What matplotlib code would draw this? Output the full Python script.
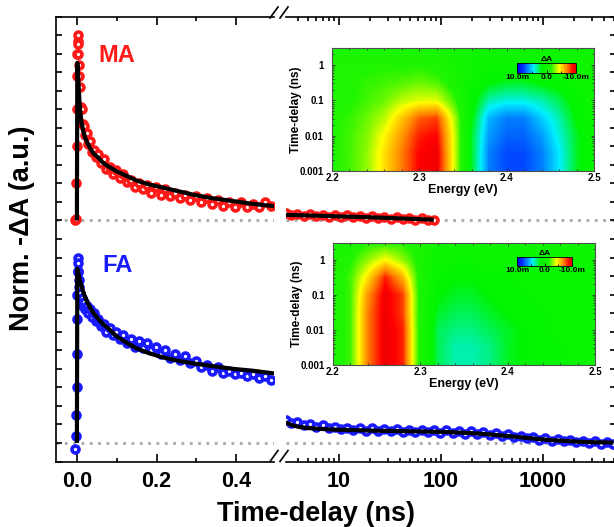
import numpy as np
import matplotlib
matplotlib.use("Agg")
import matplotlib.pyplot as plt
from matplotlib.colors import LinearSegmentedColormap, Normalize
from matplotlib.lines import Line2D
from matplotlib.ticker import MultipleLocator, FixedLocator, NullFormatter, LogLocator

plt.rcParams['font.family'] = ['Liberation Sans', 'DejaVu Sans']
plt.rcParams['font.weight'] = 'bold'

# =============================================================================
# DATA
# =============================================================================

MA_OFFSET = 1.2

# short time window (linear axis, ns)
t_short = [-0.004, -0.003, -0.002, -0.001, 0.0, 0.0005, 0.001, 0.0015, 0.002, 0.003,
           0.004, 0.005, 0.006, 0.008, 0.010, 0.012, 0.015, 0.018, 0.021, 0.025,
           0.029, 0.033, 0.038, 0.043, 0.048, 0.054, 0.060, 0.067, 0.074, 0.082,
           0.090, 0.098, 0.107, 0.116, 0.125, 0.135, 0.145, 0.155, 0.165, 0.176,
           0.187, 0.198, 0.210, 0.222, 0.234, 0.246, 0.259, 0.272, 0.285, 0.298,
           0.312, 0.326, 0.340, 0.354, 0.368, 0.383, 0.398, 0.413, 0.428, 0.443,
           0.458, 0.473, 0.488]
ma_short = [0.00, 0.01, 0.20, 0.40, 0.60, 0.78, 0.90, 0.97, 1.00, 0.95,
            0.90, 0.84, 0.78, 0.72, 0.61, 0.60, 0.52, 0.51, 0.46, 0.47,
            0.41, 0.43, 0.37, 0.38, 0.34, 0.36, 0.31, 0.33, 0.28, 0.29,
            0.25, 0.27, 0.23, 0.25, 0.21, 0.22, 0.18, 0.20, 0.17, 0.19,
            0.15, 0.18, 0.14, 0.17, 0.13, 0.15, 0.12, 0.14, 0.11, 0.13,
            0.10, 0.12, 0.09, 0.11, 0.08, 0.10, 0.07, 0.10, 0.07, 0.09,
            0.07, 0.10, 0.08]
fa_short = [-0.03, 0.04, 0.15, 0.30, 0.48, 0.67, 0.80, 0.92, 1.00, 0.97,
            0.93, 0.88, 0.84, 0.81, 0.77, 0.78, 0.74, 0.76, 0.72, 0.74,
            0.70, 0.72, 0.68, 0.70, 0.66, 0.67, 0.63, 0.64, 0.60, 0.62,
            0.58, 0.60, 0.56, 0.58, 0.54, 0.56, 0.52, 0.55, 0.51, 0.54,
            0.50, 0.52, 0.48, 0.50, 0.46, 0.48, 0.45, 0.47, 0.43, 0.44,
            0.41, 0.42, 0.39, 0.41, 0.38, 0.39, 0.37, 0.38, 0.36, 0.37,
            0.35, 0.36, 0.34]

fit_t_short = [0.0, 0.001, 0.002, 0.004, 0.006, 0.008, 0.011, 0.015, 0.020, 0.026,
               0.033, 0.042, 0.053, 0.066, 0.080, 0.100, 0.125, 0.150, 0.180, 0.210,
               0.250, 0.290, 0.340, 0.390, 0.440, 0.495]
ma_fit_short = [0.0, 0.85, 0.82, 0.74, 0.66, 0.60, 0.54, 0.49, 0.45, 0.42,
                0.39, 0.36, 0.34, 0.31, 0.29, 0.265, 0.24, 0.215, 0.195, 0.18,
                0.16, 0.14, 0.12, 0.105, 0.09, 0.077]
fa_fit_short = [0.0, 0.94, 0.93, 0.91, 0.89, 0.87, 0.85, 0.82, 0.79, 0.76,
                0.73, 0.70, 0.67, 0.64, 0.615, 0.575, 0.54, 0.51, 0.485, 0.465,
                0.445, 0.43, 0.415, 0.40, 0.39, 0.375]

# long time window (log axis, ns)
t_long = [3.0, 3.4, 3.9, 4.5, 5.2, 6.0, 6.9, 7.9, 9.1, 10.5,
          12.0, 13.8, 15.9, 18.3, 21.0, 24.2, 27.8, 32.0, 36.8, 42.3,
          48.7, 56.0, 64.4, 74.0, 85.0, 98.0, 113, 130, 149, 171,
          197, 227, 261, 300, 345, 397, 456, 525, 603, 694,
          798, 918, 1055, 1214, 1396, 1605, 1846, 2123, 2441, 2807,
          3228, 3713, 4270, 4910]
ma_long = [0.040, 0.028, 0.036, 0.025, 0.033, 0.022, 0.031, 0.020, 0.030, 0.018,
           0.027, 0.016, 0.025, 0.014, 0.022, 0.012, 0.020, 0.010, 0.017, 0.007,
           0.014, 0.004, 0.011, 0.002, 0.005]
fa_long = [0.125, 0.110, 0.115, 0.095, 0.100, 0.085, 0.095, 0.080, 0.088, 0.075,
           0.083, 0.070, 0.080, 0.065, 0.078, 0.063, 0.075, 0.062, 0.073, 0.060,
           0.072, 0.058, 0.070, 0.057, 0.070, 0.055, 0.068, 0.053, 0.065, 0.050,
           0.062, 0.046, 0.058, 0.042, 0.053, 0.036, 0.047, 0.030, 0.040, 0.025,
           0.033, 0.018, 0.027, 0.012, 0.022, 0.008, 0.016, 0.003, 0.012, 0.000,
           0.008, -0.005, 0.005, -0.008]

ma_fit_t_long = [3, 5, 10, 20, 40, 85]
ma_fit_long = [0.030, 0.027, 0.022, 0.017, 0.011, 0.004]
fa_fit_t_long = [3, 3.5, 4, 5, 7, 10, 20, 50, 100, 200, 300, 500, 800, 1200, 2000, 3000, 4900]
fa_fit_long = [0.110, 0.095, 0.087, 0.080, 0.075, 0.071, 0.067, 0.063, 0.060, 0.053,
               0.046, 0.035, 0.024, 0.015, 0.008, 0.004, 0.002]

# transient absorption maps: dA (mOD) on energy x log10(time) grid
map_energy = [2.20, 2.22, 2.24, 2.26, 2.28, 2.30, 2.32, 2.34,
              2.36, 2.38, 2.40, 2.42, 2.44, 2.46, 2.48, 2.50]
map_log_t = [-3.0, -2.5, -2.0, -1.5, -1.0, -0.5, 0.0, 0.5]
ma_map = [
    [-1.5, -2.0, -3.0, -5.0, -7.0, -9.0, -9.5, -4.0, 2.0, 6.5, 7.5, 7.5, 6.5, 4.5, 2.0, 0.5],
    [-1.5, -2.0, -3.0, -5.0, -7.0, -9.0, -9.5, -4.0, 2.0, 6.5, 7.5, 7.5, 6.5, 4.5, 2.0, 0.5],
    [-1.5, -2.0, -2.8, -4.5, -6.5, -8.5, -9.0, -4.0, 2.0, 6.0, 7.0, 7.0, 6.0, 4.0, 2.0, 0.5],
    [-1.5, -1.8, -2.5, -3.5, -5.5, -7.5, -8.0, -3.5, 1.5, 5.5, 6.5, 6.5, 5.0, 3.5, 1.5, 0.5],
    [-1.5, -1.5, -2.0, -2.5, -3.5, -4.0, -4.0, -2.0, 1.0, 3.5, 4.0, 4.0, 3.5, 2.5, 1.0, 0.5],
    [-1.5, -1.5, -1.8, -2.0, -2.2, -2.5, -2.2, -1.0, 0.5, 1.5, 2.0, 2.0, 1.5, 1.0, 0.5, 0.0],
    [-1.5, -1.5, -1.5, -1.5, -1.5, -1.5, -1.2, -0.5, 0.0, 0.5, 0.5, 0.5, 0.5, 0.5, 0.0, 0.0],
    [-1.0, -1.0, -1.0, -1.0, -1.0, -1.0, -0.8, -0.5, 0.0, 0.0, 0.0, 0.0, 0.0, 0.0, 0.0, 0.0],
]
fa_map = [
    [-1.0, -2.0, -7.0, -9.5, -8.5, -1.0, 2.5, 3.5, 3.5, 3.0, 2.0, 1.5, 1.0, 1.0, 0.5, 0.5],
    [-1.0, -2.0, -7.0, -9.5, -8.5, -1.0, 2.5, 3.5, 3.5, 3.0, 2.0, 1.5, 1.0, 1.0, 0.5, 0.5],
    [-1.0, -2.0, -7.0, -9.5, -8.5, -1.0, 2.5, 3.0, 3.0, 2.5, 2.0, 1.5, 1.0, 0.5, 0.5, 0.5],
    [-1.0, -2.0, -7.0, -9.5, -8.0, -1.0, 2.0, 2.5, 2.5, 2.0, 1.5, 1.0, 1.0, 0.5, 0.5, 0.5],
    [-1.0, -2.0, -6.5, -9.5, -8.0, -1.0, 1.5, 2.0, 2.0, 1.5, 1.0, 1.0, 0.5, 0.5, 0.5, 0.5],
    [-1.0, -2.0, -5.0, -8.5, -6.0, -1.0, 1.0, 1.5, 1.5, 1.0, 1.0, 0.5, 0.5, 0.5, 0.5, 0.5],
    [-1.0, -1.5, -3.0, -4.5, -3.0, -1.0, 0.5, 0.5, 0.5, 0.5, 0.5, 0.5, 0.5, 0.5, 0.5, 0.5],
    [-1.0, -1.0, -1.5, -1.5, -1.5, -1.0, 0.0, 0.0, 0.0, 0.0, 0.0, 0.0, 0.0, 0.0, 0.0, 0.0],
]

# Origin-like rainbow; blue side = +10 mOD, red side = -10 mOD
rainbow = LinearSegmentedColormap.from_list('origin_rainbow', [
    (0.00, '#0000e6'), (0.10, '#0030ff'), (0.28, '#00f0ff'), (0.42, '#00f500'),
    (0.58, '#20f500'), (0.72, '#ffff00'), (0.85, '#ff8000'), (0.95, '#ff0000'),
    (1.00, '#e60000')]).reversed()

RED = '#ff1a1a'
BLUE = '#1a1aff'

# =============================================================================
# FIGURE
# =============================================================================

W, H = 614, 527
fig = plt.figure(figsize=(W / 100, H / 100), dpi=100)


def px_rect(x0, y0, x1, y1):
    """Pixel box (top-left origin) -> figure fraction rect."""
    return [x0 / W, 1 - y1 / H, (x1 - x0) / W, (y1 - y0) / H]


ax1 = fig.add_axes(px_rect(56, 16.5, 274, 461.5))
ax2 = fig.add_axes(px_rect(286, 16.5, 616, 461.5))

mk = dict(marker='o', ms=5.0, mew=2.6, mfc='white', ls='none', zorder=3)
ln = dict(color='black', lw=3.0, zorder=4, solid_capstyle='butt')
zero = dict(color='#a8a8a8', lw=2.0, ls=(0, (1, 2)), zorder=1)

for ax in (ax1, ax2):
    ax.axhline(0, **zero)
    ax.axhline(MA_OFFSET, **zero)

ma_s = np.array(ma_short) + MA_OFFSET
ax1.plot(t_short, ma_s, mec=RED, **mk)
ax1.plot(fit_t_short, np.array(ma_fit_short) + MA_OFFSET, **ln)
ax1.plot(t_short, fa_short, mec=BLUE, **mk)
ax1.plot(fit_t_short, fa_fit_short, **ln)

ax2.plot(t_long[:len(ma_long)], np.array(ma_long) + MA_OFFSET, mec=RED, **mk)
ax2.plot(ma_fit_t_long, np.array(ma_fit_long) + MA_OFFSET, **ln)
ax2.plot(t_long, fa_long, mec=BLUE, **mk)
ax2.plot(fa_fit_t_long, fa_fit_long, **ln)

for ax in (ax1, ax2):
    ax.set_ylim(-0.1, 2.3)
    ax.yaxis.set_major_locator(MultipleLocator(0.1))
    ax.yaxis.set_major_formatter(NullFormatter())
    ax.tick_params(which='both', direction='in', top=True, width=1.2, labelsize=15.5, pad=7)
    ax.tick_params(which='major', length=5.8)
    ax.tick_params(which='minor', length=3.2)
    ax.tick_params(axis='y', length=4.2)
    for s in ax.spines.values():
        s.set_linewidth(1.2)

ax1.set_xlim(-0.0525, 0.495)
ax1.set_xticks([0.0, 0.2, 0.4], ['0.0', '0.2', '0.4'])
ax1.xaxis.set_minor_locator(FixedLocator([0.1, 0.3]))
ax1.spines['right'].set_visible(False)
ax1.tick_params(axis='y', right=False)

ax2.set_xscale('log')
ax2.set_xlim(3.02, 5200)
ax2.set_xticks([10, 100, 1000], ['10', '100', '1000'])
ax2.xaxis.set_minor_locator(LogLocator(base=10, subs=np.arange(2, 10)))
ax2.xaxis.set_minor_formatter(NullFormatter())
ax2.spines['left'].set_visible(False)
ax2.yaxis.tick_right()
ax2.tick_params(axis='y', left=False, right=True)

for lab in ax1.get_xticklabels() + ax2.get_xticklabels():
    lab.set_fontweight('bold')

# axis break marks
for yb in (12.5, 456):
    for xb in (274, 284):
        fig.add_artist(Line2D([(xb - 4) / W, (xb + 4) / W],
                              [1 - (yb + 5.5) / H, 1 - (yb - 5.5) / H],
                              color='black', lw=1.2))

fig.text(117 / W, 1 - 56 / H, 'MA', color=RED, fontsize=17, fontweight='bold',
         ha='center', va='center')
fig.text(117 / W, 1 - 266 / H, 'FA', color=BLUE, fontsize=17, fontweight='bold',
         ha='center', va='center')
fig.text(22 / W, 1 - 228 / H, 'Norm. -\u0394A (a.u.)', rotation=90, fontsize=19.5,
         fontweight='bold', ha='center', va='center')
fig.text(316 / W, 1 - 514 / H, 'Time-delay (ns)', fontsize=19.5, fontweight='bold',
         ha='center', va='center')


def draw_map(rect, dA, cbar_rect):
    """Inset TA map with an in-plot horizontal colorbar."""
    ax = fig.add_axes(rect)
    de = (map_energy[1] - map_energy[0]) / 2
    dl = (map_log_t[1] - map_log_t[0]) / 2
    im = ax.imshow(np.array(dA), origin='lower', aspect='auto', cmap=rainbow,
                   norm=Normalize(-10, 10), interpolation='bilinear',
                   interpolation_stage='data',
                   extent=(map_energy[0] - de, map_energy[-1] + de,
                           map_log_t[0] - dl, map_log_t[-1] + dl))
    ax.set_xlim(2.2, 2.5)
    ax.set_ylim(-3, np.log10(3))
    ax.set_xticks([2.2, 2.3, 2.4, 2.5], ['2.2', '2.3', '2.4', '2.5'])
    ax.xaxis.set_minor_locator(MultipleLocator(0.02))
    ax.set_yticks([-3, -2, -1, 0], ['0.001', '0.01', '0.1', '1'])
    minors = [np.log10(m * 10.0 ** d) for d in (-3, -2, -1, 0) for m in range(2, 10)]
    ax.yaxis.set_minor_locator(FixedLocator(minors))
    ax.tick_params(which='both', direction='in', top=True, right=True,
                   labelsize=7, width=0.6, color='#303030')
    ax.tick_params(axis='x', pad=1.5)
    ax.tick_params(axis='y', pad=6)
    ax.tick_params(which='major', length=2.5)
    ax.tick_params(which='minor', length=1.3)
    for lab in ax.get_xticklabels() + ax.get_yticklabels():
        lab.set_fontweight('bold')
    for s in ax.spines.values():
        s.set_linewidth(0.8)
        s.set_color('#505050')
    ax.set_xlabel('Energy (eV)', fontsize=9, fontweight='bold', labelpad=1)
    ax.set_ylabel('Time-delay (ns)', fontsize=8.5, fontweight='bold')
    ax.yaxis.set_label_coords(-0.115, 0.5)

    cax = fig.add_axes(cbar_rect)
    cb = fig.colorbar(im, cax=cax, orientation='horizontal')
    cax.invert_xaxis()
    cb.set_ticks([10, 0, -10], labels=['10.0m', '0.0', '-10.0m'])
    cax.xaxis.set_minor_locator(FixedLocator([5, -5]))
    cax.tick_params(which='both', direction='in', labelsize=6, pad=1, width=0.6)
    cax.tick_params(which='major', length=2.5)
    cax.tick_params(which='minor', length=1.5)
    for lab in cax.get_xticklabels():
        lab.set_fontweight('bold')
    cb.outline.set_linewidth(0.6)
    cax.set_title('\u0394A', fontsize=6, fontweight='bold', pad=1.5)


draw_map(px_rect(332, 48, 594, 171), ma_map, px_rect(517, 63, 576, 73))
draw_map(px_rect(333, 243, 595, 365), fa_map, px_rect(517, 257, 572, 266))

fig.savefig('out.png', dpi=100)
